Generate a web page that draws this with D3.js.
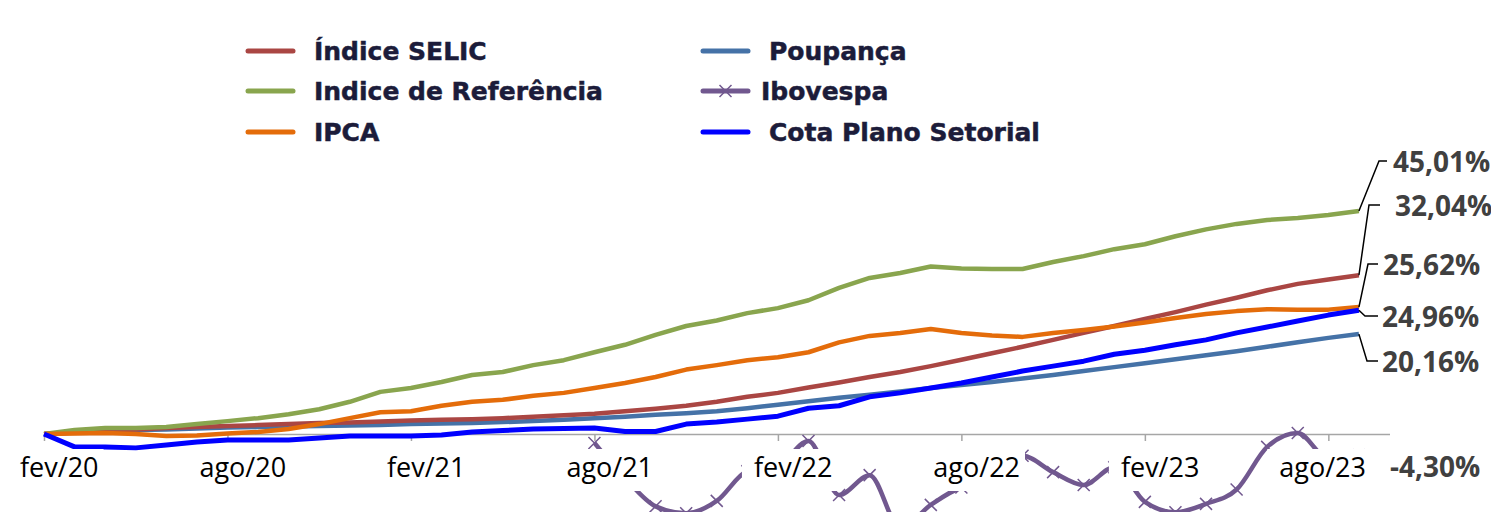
<!DOCTYPE html>
<meta charset="utf-8">
<style>
    body { margin: 0; background: #fff; }
    .tick-label {
        font-family: 'Open Sans', sans-serif;
        font-size: 27px;
        fill: #000;
    }
    .end-label {
        font-family: 'Open Sans', sans-serif;
        font-weight: 700;
        font-size: 28px;
        fill: #404040;
    }
    .legend text {
        font-family: 'DejaVu Sans', sans-serif;
        font-weight: 700;
        font-size: 25px;
        fill: #1c1c3a;
        stroke: #1c1c3a;
        stroke-width: 0.5px;
    }
</style>
<svg width="1491" height="512"></svg>
<script src="https://d3js.org/d3.v7.min.js"></script>
<script>
    // monthly accumulated returns (%), fev/20 .. set/23
    var months = ["fev/20","mar/20","abr/20","mai/20","jun/20","jul/20","ago/20","set/20","out/20","nov/20","dez/20",
        "jan/21","fev/21","mar/21","abr/21","mai/21","jun/21","jul/21","ago/21","set/21","out/21","nov/21","dez/21",
        "jan/22","fev/22","mar/22","abr/22","mai/22","jun/22","jul/22","ago/22","set/22","out/22","nov/22","dez/22",
        "jan/23","fev/23","mar/23","abr/23","mai/23","jun/23","jul/23","ago/23","set/23"];
    var tickMonths = ["fev/20","ago/20","fev/21","ago/21","fev/22","ago/22","fev/23","ago/23"];

    var selic = [0, 0.3, 0.6, 0.9, 1.2, 1.4, 1.6, 1.8, 2.0, 2.2, 2.3, 2.5, 2.7, 2.9, 3.0, 3.2, 3.5, 3.8, 4.1, 4.6, 5.1, 5.7,
        6.5, 7.5, 8.3, 9.4, 10.4, 11.5, 12.5, 13.7, 15.0, 16.3, 17.6, 19.0, 20.4, 21.8, 23.2, 24.6, 26.1, 27.5, 29.0, 30.3, 31.2, 32.04];
    var referencia = [0, 0.8, 1.2, 1.2, 1.4, 2.0, 2.6, 3.2, 4.0, 5.0, 6.5, 8.5, 9.3, 10.5, 11.9, 12.5, 13.9, 14.9, 16.5, 18.0, 20.0, 21.8,
        22.9, 24.4, 25.4, 27.0, 29.5, 31.5, 32.5, 33.8, 33.4, 33.3, 33.3, 34.7, 35.9, 37.3, 38.3, 39.9, 41.3, 42.4, 43.2, 43.6, 44.2, 45.01];
    var ipca = [0, 0.1, 0.2, 0.0, -0.4, -0.3, 0.1, 0.4, 1.0, 2.0, 3.2, 4.4, 4.6, 5.7, 6.5, 6.9, 7.7, 8.3, 9.3, 10.3, 11.5, 13.0,
        13.9, 14.9, 15.5, 16.5, 18.5, 19.8, 20.4, 21.2, 20.4, 19.9, 19.6, 20.4, 21.0, 21.7, 22.5, 23.4, 24.2, 24.8, 25.2, 25.1, 25.1, 25.62];
    var poupanca = [0, 0.3, 0.6, 0.8, 0.9, 1.1, 1.3, 1.4, 1.5, 1.6, 1.7, 1.8, 2.0, 2.1, 2.2, 2.4, 2.6, 2.9, 3.2, 3.5, 3.9, 4.2,
        4.6, 5.2, 5.9, 6.6, 7.3, 7.9, 8.6, 9.3, 9.9, 10.5, 11.2, 11.9, 12.7, 13.5, 14.3, 15.1, 15.9, 16.7, 17.6, 18.5, 19.4, 20.16];
    // ibovespa: nothing readable before ago/21
    var ibovespa = [null, null, null, null, null, null, null, null, null, null, null, null, null, null, null, null, null, null,
        -1.8, -8.9, -14.6, -16.0, -13.5, -7.5, -6.5, -1.4, -12.3, -8.3, -19.0, -14.3, -10.8, -9.8, -4.4, -7.7, -10.3, -6.7,
        -13.7, -15.8, -14.1, -11.2, -2.6, 0.2, -5.0, -4.30];
    var cota = [0, -2.6, -2.6, -2.8, -2.2, -1.6, -1.2, -1.2, -1.2, -0.8, -0.4, -0.4, -0.4, -0.2, 0.4, 0.7, 1.0, 1.1, 1.2, 0.5, 0.5, 2.0,
        2.4, 3.0, 3.6, 5.2, 5.7, 7.5, 8.3, 9.3, 10.3, 11.5, 12.7, 13.7, 14.7, 16.1, 16.9, 18.0, 19.0, 20.4, 21.6, 22.8, 24.0, 24.96];

    var svg = d3.select("svg");
    var x = d3.scaleLinear().domain([0, months.length]).range([44, 1389.5]);
    var y = d3.scaleLinear().domain([-20, 50]).range([533.1, 186.25]);
    var fmt = d3.formatLocale({decimal: ",", thousands: ".", grouping: [3], currency: ["R$", ""], minus: "-"}).format(".2f");

    // axis line + ticks
    var gx = svg.append("g")
        .attr("transform", "translate(0," + y(0) + ")")
        .call(d3.axisBottom(x)
            .tickValues(tickMonths.map(function(m) { return months.indexOf(m); }))
            .tickSize(7)
            .tickSizeOuter(0)
            .tickFormat(""));
    gx.select(".domain").attr("stroke", "#a6a6a6").attr("stroke-width", 1.5);
    gx.selectAll(".tick line").attr("stroke", "#a6a6a6").attr("stroke-width", 1.5);

    var line = d3.line()
        .defined(function(d) { return d != null; })
        .x(function(d, i) { return x(i); })
        .y(function(d) { return y(d); });

    var series = [
        {name: "Poupança", values: poupanca, color: "#4572a7", width: 4.5},
        {name: "Índice SELIC", values: selic, color: "#aa4643", width: 4.5},
        {name: "Indice de Referência", values: referencia, color: "#89a54e", width: 4.5},
        {name: "IPCA", values: ipca, color: "#e46c0a", width: 4.5},
        {name: "Cota Plano Setorial", values: cota, color: "#0000ff", width: 5}
    ];

    var ibovColor = "#71588f";
    svg.append("path")
        .datum(ibovespa)
        .attr("fill", "none")
        .attr("stroke", ibovColor)
        .attr("stroke-width", 4.5)
        .attr("d", line.curve(d3.curveMonotoneX));
    svg.append("g").selectAll("path")
        .data(ibovespa.map(function(v, i) { return {i: i, v: v}; }).filter(function(d) { return d.v != null; }))
        .enter().append("path")
        .attr("transform", function(d) { return "translate(" + x(d.i) + "," + y(d.v) + ")"; })
        .attr("d", "M-6,-6L6,6M-6,6L6,-6")
        .attr("stroke", ibovColor)
        .attr("stroke-width", 1.5);

    line.curve(d3.curveLinear);
    svg.append("g").selectAll("path")
        .data(series)
        .enter().append("path")
        .attr("fill", "none")
        .attr("stroke", function(d) { return d.color; })
        .attr("stroke-width", function(d) { return d.width; })
        .attr("stroke-linejoin", "round")
        .attr("d", function(d) { return line(d.values); });

    // month labels sit on white boxes (they hide the ibovespa curve)
    var halfMonth = x(0.5) - x(0);
    var labelRight = 1366;
    var lbl = svg.append("g").selectAll("g")
        .data(tickMonths)
        .enter().append("g");
    lbl.append("text")
        .attr("class", "tick-label")
        .attr("x", function(d) { return x(months.indexOf(d)) + halfMonth; })
        .attr("y", 477)
        .attr("text-anchor", "middle")
        .text(function(d) { return d; });
    lbl.each(function() {
        var g = d3.select(this);
        var t = g.select("text");
        var bb = t.node().getBBox();
        if (bb.x + bb.width > labelRight) {
            t.attr("x", +t.attr("x") - (bb.x + bb.width - labelRight));
            bb = t.node().getBBox();
        }
        g.insert("rect", "text")
            .attr("x", bb.x - 12)
            .attr("y", 449)
            .attr("width", bb.width + 17)
            .attr("height", 42)
            .attr("fill", "#fff");
    });

    // end value labels with leaders
    var endLabels = [
        {values: referencia, ty: 172, tx: 1393, kx: 1379, ex: 1387},
        {values: selic, ty: 216, tx: 1395, kx: 1369, ex: 1380},
        {values: ipca, ty: 275, tx: 1383, kx: 1368, ex: 1378},
        {values: cota, ty: 327, tx: 1382, kx: 1365, ex: 1378},
        {values: poupanca, ty: 372, tx: 1382, kx: 1367, ex: 1378},
        {values: ibovespa, ty: 477, tx: 1390}
    ];
    var last = months.length - 1;
    endLabels.forEach(function(l) {
        var v = l.values[last];
        if (l.kx) {
            svg.append("path")
                .attr("fill", "none")
                .attr("stroke", "#000")
                .attr("stroke-width", 1.5)
                .attr("d", "M" + x(last) + "," + y(v) + "L" + l.kx + "," + (l.ty - 11) + "L" + l.ex + "," + (l.ty - 11));
        }
        svg.append("text")
            .attr("class", "end-label")
            .attr("x", l.tx)
            .attr("y", l.ty)
            .text(fmt(v) + "%");
    });

    // legend
    var legendItems = [
        {name: "Índice SELIC", color: "#aa4643", lx: 248, tx: 314, ty: 60},
        {name: "Indice de Referência", color: "#89a54e", lx: 248, tx: 314, ty: 100},
        {name: "IPCA", color: "#e46c0a", lx: 248, tx: 314, ty: 141},
        {name: "Poupança", color: "#4572a7", lx: 703, tx: 769, ty: 60},
        {name: "Ibovespa", color: ibovColor, lx: 703, tx: 761, ty: 100, marker: true},
        {name: "Cota Plano Setorial", color: "#0000ff", lx: 703, tx: 769, ty: 141}
    ];
    var lg = svg.append("g").attr("class", "legend")
        .selectAll("g")
        .data(legendItems)
        .enter().append("g");
    lg.append("line")
        .attr("x1", function(d) { return d.lx; })
        .attr("x2", function(d) { return d.lx + 45; })
        .attr("y1", function(d) { return d.ty - 9; })
        .attr("y2", function(d) { return d.ty - 9; })
        .attr("stroke", function(d) { return d.color; })
        .attr("stroke-width", 5)
        .attr("stroke-linecap", "round");
    lg.filter(function(d) { return d.marker; })
        .append("path")
        .attr("transform", function(d) { return "translate(" + (d.lx + 22.5) + "," + (d.ty - 9) + ")"; })
        .attr("d", "M-6,-6L6,6M-6,6L6,-6")
        .attr("stroke", function(d) { return d.color; })
        .attr("stroke-width", 1.5);
    lg.append("text")
        .attr("x", function(d) { return d.tx; })
        .attr("y", function(d) { return d.ty; })
        .text(function(d) { return d.name; });
</script>
